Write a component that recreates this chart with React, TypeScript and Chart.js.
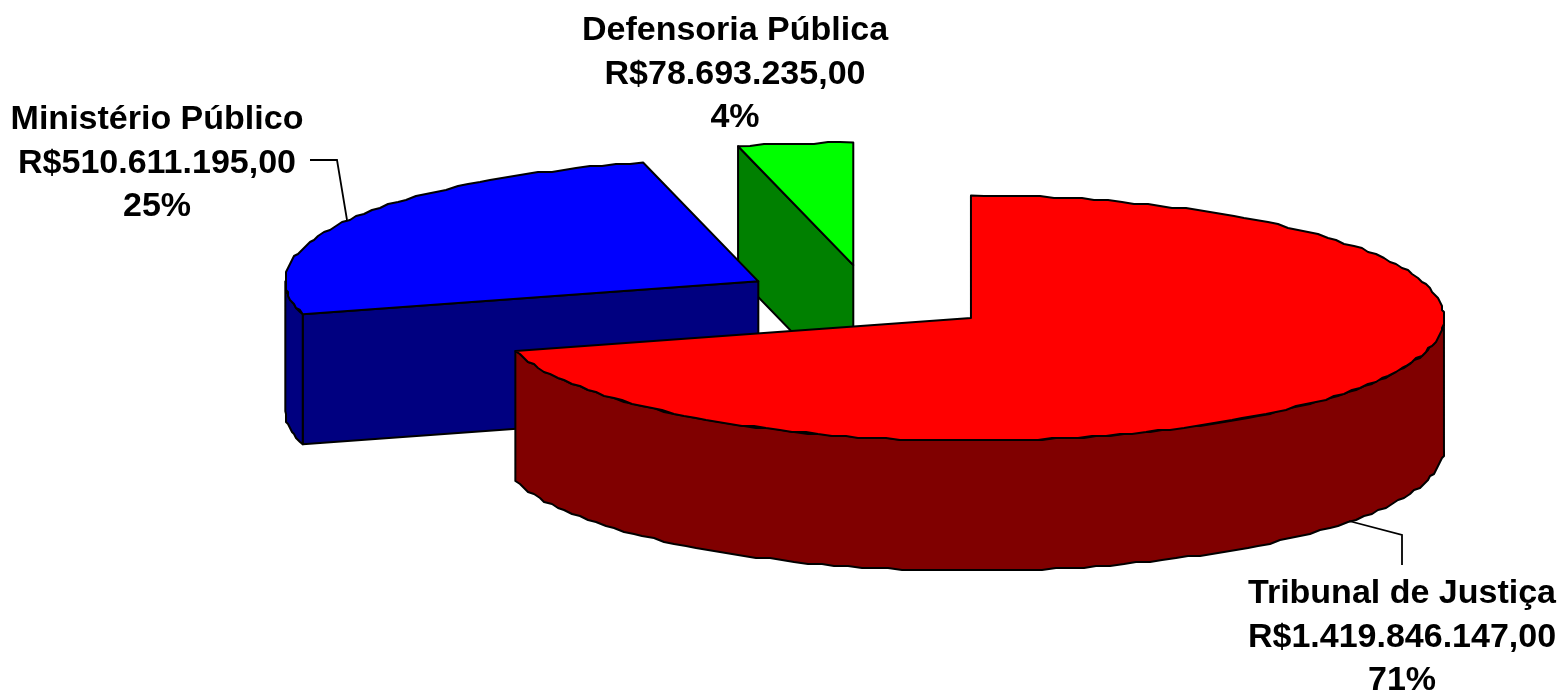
import React, { useEffect, useRef } from "react";
import { Chart, registerables } from "chart.js";

Chart.register(...registerables);

const categories = ["Tribunal de Justiça", "Ministério Público", "Defensoria Pública"];
const values = [1419846147, 510611195, 78693235];
const topColors = ["#ff0000", "#0000ff", "#00ff00"];
const sideColors = ["#800000", "#000080", "#008000"];

const WIDTH = 1561;
const HEIGHT = 690;
const CENTER_X = 869;
const CENTER_Y = 298;
const RADIUS = 473;
const TILT = 122.5 / 473;
const DEPTH = 130;
const EXPLODE = 128;
const GRID = 2;
const FONT = 'bold 34px "Liberation Sans", Arial, sans-serif';
const LINE_GAP = 43.5;

const labelLayout = [
  { x: 1402, y: 594, leader: [[1349, 521], [1402, 535], [1402, 565]] },
  { x: 157, y: 120, leader: [[310, 160], [337, 160], [347, 220]] },
  { x: 735, y: 31, leader: [] as number[][] },
];

function money(v: number) {
  return "R$" + String(v).replace(/\B(?=(\d{3})+(?!\d))/g, ".") + ",00";
}

function arcPts(cx: number, cy: number, r: number, a0: number, a1: number) {
  const n = Math.max(2, Math.ceil((Math.abs(a1 - a0) * r) / 14));
  const pts: number[][] = [];
  for (let i = 0; i <= n; i++) {
    const a = a0 + ((a1 - a0) * i) / n;
    const x = cx + Math.cos(a) * r;
    const y = cy + Math.sin(a) * r * TILT;
    if (i === 0 || i === n) pts.push([x, y]);
    else pts.push([Math.round(x / GRID) * GRID, Math.round(y / GRID) * GRID]);
  }
  return pts;
}

function trace(ctx: CanvasRenderingContext2D, pts: number[][]) {
  ctx.beginPath();
  pts.forEach((p, i) => (i ? ctx.lineTo(p[0], p[1]) : ctx.moveTo(p[0], p[1])));
  ctx.closePath();
}

function paint(ctx: CanvasRenderingContext2D, pts: number[][], fill: string) {
  trace(ctx, pts);
  ctx.fillStyle = fill;
  ctx.fill();
  ctx.stroke();
}

const pie3d = {
  id: "pie3d",
  beforeDatasetsDraw(chart: any) {
    const ctx: CanvasRenderingContext2D = chart.ctx;
    const arcs = chart.getDatasetMeta(0).data;
    ctx.save();
    ctx.lineWidth = 2;
    ctx.lineJoin = "round";
    ctx.strokeStyle = "#000";
    for (let i = arcs.length - 1; i >= 0; i--) {
      const arc = arcs[i];
      const { x, y, startAngle: s, endAngle: e, outerRadius: r } = arc.getProps([
        "x",
        "y",
        "startAngle",
        "endAngle",
        "outerRadius",
      ]);
      const mid = (s + e) / 2;
      const cx = x + Math.cos(mid) * EXPLODE;
      const cy = y + Math.sin(mid) * EXPLODE * TILT;
      const dark = sideColors[i];
      const eps = 1e-6;

      const radial = (a: number) => {
        const px = cx + Math.cos(a) * r;
        const py = cy + Math.sin(a) * r * TILT;
        paint(ctx, [[cx, cy], [px, py], [px, py + DEPTH], [cx, cy + DEPTH]], dark);
      };
      if (Math.cos(e) > eps) radial(e);
      if (Math.cos(s) < -eps) radial(s);

      const w0 = Math.max(s, 0);
      const w1 = Math.min(e, Math.PI);
      if (w1 > w0) {
        const top = arcPts(cx, cy, r, w0, w1);
        const bottom = top.map((p) => [p[0], p[1] + DEPTH]).reverse();
        paint(ctx, [...top, ...bottom], dark);
      }

      const face = [[cx, cy], ...arcPts(cx, cy, r, s, e)];
      ctx.save();
      trace(ctx, face);
      ctx.clip();
      ctx.save();
      ctx.translate(cx, cy);
      ctx.scale(1, TILT);
      ctx.translate(-x, -y);
      arc.draw(ctx);
      ctx.restore();
      ctx.restore();
      paint(ctx, face, topColors[i]);
    }
    ctx.restore();
    return false;
  },
  afterDraw(chart: any) {
    const ctx: CanvasRenderingContext2D = chart.ctx;
    const data: number[] = chart.data.datasets[0].data;
    const total = data.reduce((a, b) => a + b, 0);
    ctx.save();
    ctx.fillStyle = "#000";
    ctx.strokeStyle = "#000";
    ctx.lineWidth = 1.8;
    ctx.font = FONT;
    ctx.textAlign = "center";
    ctx.textBaseline = "middle";
    data.forEach((v, i) => {
      const lay = labelLayout[i];
      const lines = [chart.data.labels[i], money(v), Math.round((v / total) * 100) + "%"];
      lines.forEach((t: string, j: number) => ctx.fillText(t, lay.x, lay.y + j * LINE_GAP));
      if (lay.leader.length) {
        ctx.beginPath();
        lay.leader.forEach((p, j) => (j ? ctx.lineTo(p[0], p[1]) : ctx.moveTo(p[0], p[1])));
        ctx.stroke();
      }
    });
    ctx.restore();
  },
};

export default function App() {
  const ref = useRef<HTMLCanvasElement | null>(null);
  useEffect(() => {
    document.body.style.margin = "0";
    document.body.style.background = "#fff";
    const chart = new Chart(ref.current!, {
      type: "pie",
      data: {
        labels: categories,
        datasets: [{ data: values, backgroundColor: topColors, borderWidth: 0, radius: RADIUS } as any],
      },
      options: {
        animation: false,
        responsive: false,
        devicePixelRatio: 1,
        layout: {
          padding: {
            left: CENTER_X * 2 - WIDTH,
            right: 0,
            top: 0,
            bottom: HEIGHT - CENTER_Y * 2,
          },
        },
        plugins: { legend: { display: false }, tooltip: { enabled: false } },
      },
      plugins: [pie3d],
    } as any);
    return () => chart.destroy();
  }, []);
  return <canvas ref={ref} width={WIDTH} height={HEIGHT} style={{ display: "block", width: WIDTH, height: HEIGHT }} />;
}
